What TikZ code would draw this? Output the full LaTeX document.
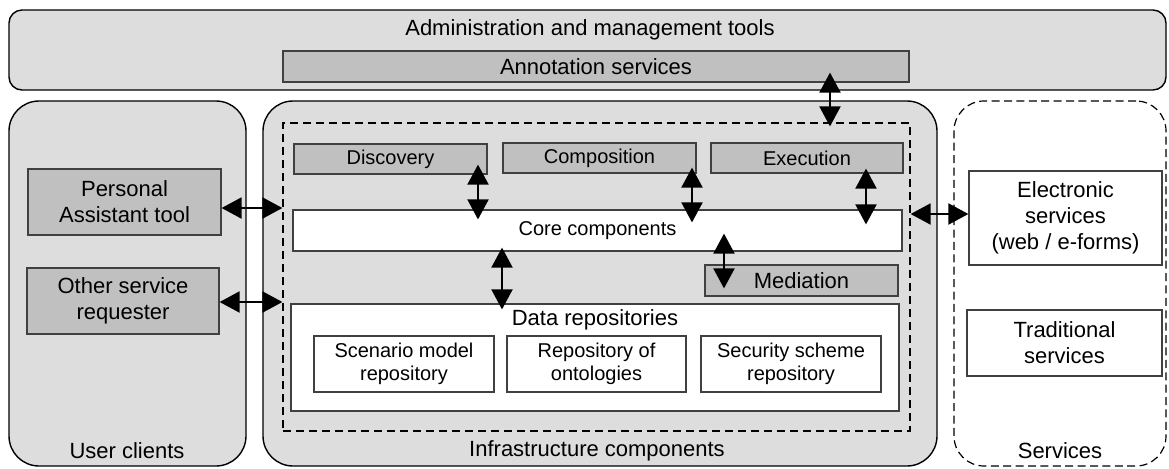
\documentclass[tikz,border=0pt]{standalone}
\usepackage{fontspec}
\setmainfont{Liberation Sans}
\usetikzlibrary{arrows.meta}
\definecolor{bglight}{RGB}{221,221,221}
\definecolor{boxgray}{RGB}{192,192,192}
\definecolor{edgegray}{RGB}{64,64,64}
\begin{document}
\begin{tikzpicture}[x=0.5pt,y=-0.5pt,
  big/.style={font=\fontsize{11}{13}\selectfont},
  small/.style={font=\fontsize{10}{11.5}\selectfont},
  panel/.style={draw=black, line width=0.7pt, fill=bglight, rounded corners=15pt, inner sep=0pt},
  dashpanel/.style={draw=black, line width=0.6pt, fill=white, dash pattern=on 4pt off 2.2pt, rounded corners=15pt, inner sep=0pt},
  graybox/.style={draw=edgegray, line width=0.6pt, fill=boxgray, inner sep=0pt, align=center},
  whitebox/.style={draw=edgegray, line width=0.6pt, fill=white, inner sep=0pt, align=center},
  lbl/.style={inner sep=0pt, align=center},
  dbl/.style={line width=1pt, {Triangle[length=10pt,width=10.5pt]}-{Triangle[length=10pt,width=10.5pt]}}
]
\useasboundingbox (0,0) rectangle (1169,468);

% top band
\node[panel, rounded corners=6.5pt, minimum width=578.5pt, minimum height=40pt] (admin) at (587.5,50) {};
\node[lbl, big] (admintitle) at (590,30) {Administration and management tools};
\node[graybox, big, minimum width=313pt, minimum height=15.5pt] (annot) at (596,66.5) {Annotation services};

% three columns
\node[panel, minimum width=118.5pt, minimum height=182.5pt] (user) at (127.5,283.5) {};
\node[panel, minimum width=337pt, minimum height=182.5pt] (infra) at (600,283.5) {};
\node[dashpanel, minimum width=106pt, minimum height=182.5pt] (serv) at (1060,283.5) {};

\node[lbl, big] (userlbl) at (127,451) {User clients};
\node[lbl, big] (infralbl) at (597,451) {Infrastructure components};
\node[lbl, big] (servlbl) at (1060,451) {Services};

% dashed inner frame
\node[draw=black, line width=0.6pt, dash pattern=on 4pt off 2.5pt, inner sep=0pt, minimum width=313.5pt, minimum height=154pt] (frame) at (596.5,277) {};

% user clients
\node[graybox, big, minimum width=96.5pt, minimum height=33pt] (pa) at (124.5,202) {Personal\\Assistant tool};
\node[graybox, big, minimum width=96pt, minimum height=33pt] (other) at (123,301) {Other service\\requester};

% infrastructure
\node[graybox, small, minimum width=96.5pt, minimum height=15pt] (disc) at (390.5,159) {Discovery};
\node[graybox, small, minimum width=96.5pt, minimum height=15pt] (comp) at (599.5,158) {Composition};
\node[graybox, small, minimum width=96pt, minimum height=15pt] (exec) at (807,158) {Execution};
\node[whitebox, small, minimum width=304.5pt, minimum height=20.5pt] (core) at (597.5,230.5) {Core components};
\node[graybox, big, minimum width=96.5pt, minimum height=15.5pt] (med) at (801.5,280.5) {Mediation};
\node[whitebox, minimum width=304pt, minimum height=53.5pt] (data) at (595,357.5) {};
\node[lbl, big] (datalbl) at (595,320) {Data repositories};
\node[whitebox, small, minimum width=90pt, minimum height=28pt] (scen) at (404,364) {Scenario model\\repository};
\node[whitebox, small, minimum width=89.5pt, minimum height=28pt] (onto) at (596.5,364) {Repository of\\ontologies};
\node[whitebox, small, minimum width=90pt, minimum height=28pt] (secu) at (791,364) {Security scheme\\repository};

% services
\node[whitebox, big, minimum width=96.5pt, minimum height=47pt] (elec) at (1065.5,218) {Electronic\\services\\(web / e-forms)};
\node[whitebox, big, minimum width=97.5pt, minimum height=33pt] (trad) at (1064.5,343) {Traditional\\services};

% connectors
\draw[dbl] ([yshift=-3pt]pa.east) -- ([yshift=-3pt]pa.east -| frame.west);
\draw[dbl] ([yshift=-0.5pt]other.east) -- ([yshift=-0.5pt]other.east -| frame.west);
\draw[dbl] ([xshift=117pt,yshift=5pt]annot.south) -- ([xshift=117pt,yshift=-2pt]annot.south |- frame.north);
\draw[dbl] ([xshift=43.75pt,yshift=5pt]disc.south) -- ([xshift=43.75pt,yshift=-5pt]disc.south |- core.north);
\draw[dbl] ([xshift=46.25pt,yshift=3pt]comp.south) -- ([xshift=46.25pt,yshift=-6.5pt]comp.south |- core.north);
\draw[dbl] ([xshift=29.5pt,yshift=2.5pt]exec.south) -- ([xshift=29.5pt,yshift=-7.5pt]exec.south |- core.north);
\draw[dbl] ([xshift=-47.75pt,yshift=2pt]core.south) -- ([xshift=-47.75pt,yshift=-3pt]core.south |- data.north);
\draw[dbl] ([xshift=-38.75pt]med.north |- core.south) ++(0,-18) -- ([xshift=-38.75pt,yshift=-12pt]med.north);
\draw[dbl] ([yshift=2pt]elec.west) -- ([yshift=2pt]elec.west -| frame.east);
\end{tikzpicture}
\end{document}
